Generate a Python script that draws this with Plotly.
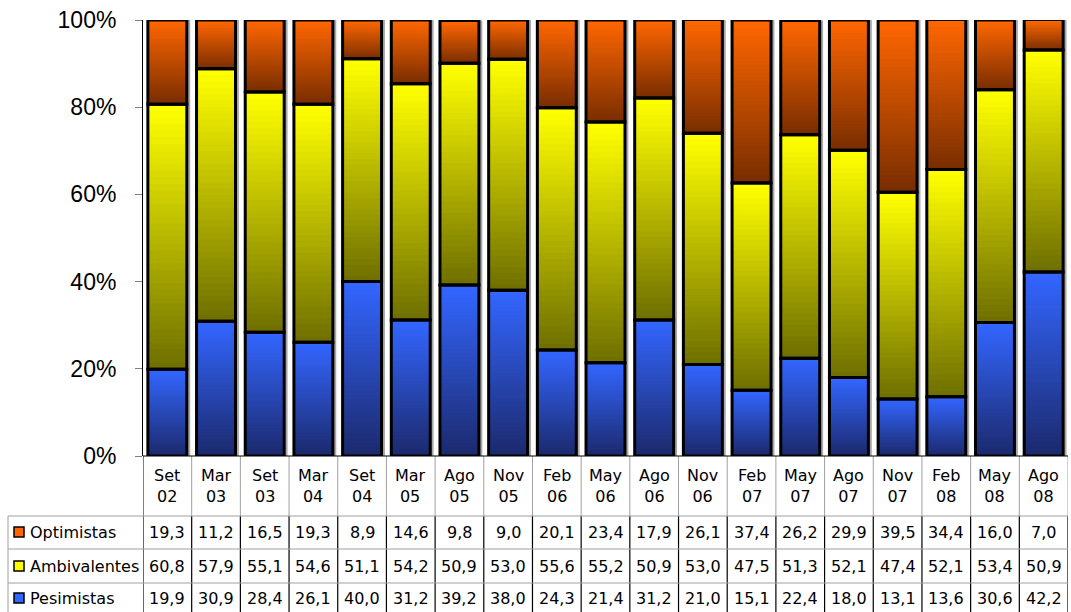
import plotly.graph_objects as go

categories = ["Set 02", "Mar 03", "Set 03", "Mar 04", "Set 04", "Mar 05", "Ago 05", "Nov 05",
              "Feb 06", "May 06", "Ago 06", "Nov 06", "Feb 07", "May 07", "Ago 07", "Nov 07",
              "Feb 08", "May 08", "Ago 08"]
optimistas = [19.3, 11.2, 16.5, 19.3, 8.9, 14.6, 9.8, 9.0, 20.1, 23.4, 17.9, 26.1, 37.4, 26.2, 29.9, 39.5, 34.4, 16.0, 7.0]
ambivalentes = [60.8, 57.9, 55.1, 54.6, 51.1, 54.2, 50.9, 53.0, 55.6, 55.2, 50.9, 53.0, 47.5, 51.3, 52.1, 47.4, 52.1, 53.4, 50.9]
pesimistas = [19.9, 30.9, 28.4, 26.1, 40.0, 31.2, 39.2, 38.0, 24.3, 21.4, 31.2, 21.0, 15.1, 22.4, 18.0, 13.1, 13.6, 30.6, 42.2]
pct_ticks = [0, 20, 40, 60, 80, 100]
pct_labels = ["0%", "20%", "40%", "60%", "80%", "100%"]

# stacking order bottom -> top, with gradient (bottom colour, top colour)
series = [
    ("Pesimistas", pesimistas, (28, 42, 110), (51, 102, 255)),
    ("Ambivalentes", ambivalentes, (112, 112, 0), (255, 255, 0)),
    ("Optimistas", optimistas, (122, 46, 0), (255, 102, 0)),
]

# plot area in pixels
L, R, T, B = 143, 1068, 20, 456
W, H = 1071, 612


def px(x):
    return (x - L) / (R - L)


def py(y):
    return (B - y) / (B - T)


FONT = "DejaVu Sans, Verdana, sans-serif"
N = 40
BW = 0.8
x = list(range(len(categories)))

fig = go.Figure()

# shadow
totals = [a + b + c for a, b, c in zip(pesimistas, ambivalentes, optimistas)]
fig.add_trace(go.Bar(x=x, y=totals, width=BW, offset=-BW / 2 + 0.07,
                     marker=dict(color="#a8a8a8", line=dict(width=0)),
                     cliponaxis=False, hoverinfo="skip", showlegend=False))

base = [0.0] * len(categories)
outlines = []
for name, vals, c0, c1 in series:
    for k in range(N):
        t = k / (N - 1)
        col = "rgb(%d,%d,%d)" % tuple(round(c0[j] + (c1[j] - c0[j]) * t) for j in range(3))
        step = [v / N for v in vals]
        b = [bb + s * k for bb, s in zip(base, step)]
        h = [s * (1.6 if k < N - 1 else 1.0) for s in step]
        fig.add_trace(go.Bar(x=x, y=h, base=b, width=BW,
                             marker=dict(color=col, line=dict(width=0)),
                             cliponaxis=False, hoverinfo="skip", showlegend=False))
    outlines.append((name, vals, list(base)))
    base = [bb + v for bb, v in zip(base, vals)]

for name, vals, b in outlines:
    fig.add_trace(go.Bar(x=x, y=vals, base=b, width=BW, name=name,
                         marker=dict(color="rgba(0,0,0,0)", line=dict(color="black", width=3)),
                         cliponaxis=False, showlegend=False))

shapes = []
annotations = []

# table header row: category labels
for i, c in enumerate(categories):
    m, yr = c.split()
    annotations.append(dict(x=i, y=py(486), xref="x", yref="paper", text=m + "<br>" + yr,
                            showarrow=False, font=dict(family=FONT, size=16, color="black"),
                            xanchor="center", yanchor="middle"))

rows = [("Optimistas", optimistas, series[2][3]),
        ("Ambivalentes", ambivalentes, series[1][3]),
        ("Pesimistas", pesimistas, series[0][3])]
row_tops = [516, 549, 583]
row_centers = [532, 566, 598]
for (name, vals, col), yc in zip(rows, row_centers):
    for i, v in enumerate(vals):
        annotations.append(dict(x=i, y=py(yc), xref="x", yref="paper",
                                text=("%.1f" % v).replace(".", ","), showarrow=False,
                                font=dict(family=FONT, size=16, color="black"),
                                xanchor="center", yanchor="middle"))
    annotations.append(dict(x=px(28), y=py(yc), xref="paper", yref="paper", text=name,
                            showarrow=False, font=dict(family=FONT, size=16, color="black"),
                            xanchor="left", yanchor="middle"))
    shapes.append(dict(type="rect", xref="paper", yref="paper",
                       x0=px(14), x1=px(24), y0=py(yc + 5), y1=py(yc - 5),
                       fillcolor="rgb(%d,%d,%d)" % col, line=dict(color="black", width=1.5)))

# grid lines
for i in range(len(categories) + 1):
    xb = i - 0.5
    shapes.append(dict(type="line", xref="x", yref="paper", x0=xb, x1=xb, y0=py(B), y1=py(516),
                       line=dict(color="black" if i == 0 else "#a0a0a0", width=1)))
    shapes.append(dict(type="line", xref="x", yref="paper", x0=xb, x1=xb, y0=py(516), y1=py(620),
                       line=dict(color="black", width=1.2)))
for yy in row_tops + [B]:
    x0 = L if yy == B else 8
    shapes.append(dict(type="line", xref="paper", yref="paper", x0=px(x0), x1=px(R), y0=py(yy), y1=py(yy),
                       line=dict(color="#a0a0a0" if yy != B else "black", width=1)))
shapes.append(dict(type="line", xref="paper", yref="paper", x0=px(8), x1=px(8), y0=py(516), y1=py(620),
                   line=dict(color="#a0a0a0", width=1)))

fig.update_layout(
    width=W, height=H,
    margin=dict(l=L, r=W - R, t=T, b=H - B, autoexpand=False),
    paper_bgcolor="white", plot_bgcolor="white",
    barmode="overlay",
    showlegend=False,
    shapes=shapes,
    annotations=annotations,
    xaxis=dict(range=[-0.5, len(categories) - 0.5], showticklabels=False, ticks="",
               showgrid=False, zeroline=False, showline=False, fixedrange=True),
    yaxis=dict(range=[0, 100], tickvals=pct_ticks, ticktext=pct_labels,
               tickfont=dict(family="Liberation Sans, Arial, sans-serif", size=23, color="black"),
               ticks="outside", ticklen=7, tickcolor="#808080", ticklabelstandoff=14,
               showline=True, linecolor="black", linewidth=1, showgrid=False, zeroline=False,
               fixedrange=True),
)

fig.write_html("out.html", config={"displayModeBar": False},
               post_script="document.body.style.margin='0';")
